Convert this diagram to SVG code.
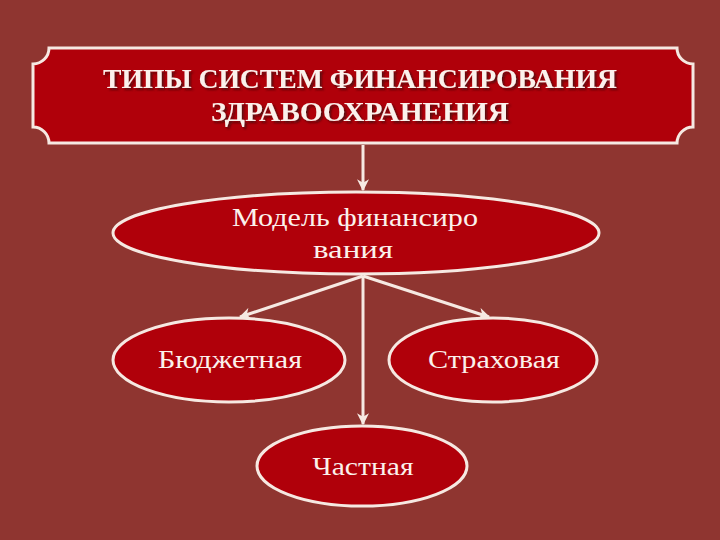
<svg xmlns="http://www.w3.org/2000/svg" width="720" height="540" viewBox="0 0 720 540">
<defs>
<style>
.node{fill:#b0000a;stroke:#f6e9e2;stroke-width:3}
.t{font-family:"Liberation Serif","Times New Roman",serif;fill:#fbf1ec;text-anchor:middle}
.title{font-weight:bold;font-size:27px;filter:url(#sh)}
.lbl{font-size:25px}
.conn{stroke:#f6e9e2;stroke-width:3;fill:none}
</style>
<filter id="sh" x="-5%" y="-30%" width="110%" height="160%">
<feDropShadow dx="2" dy="2" stdDeviation="0.8" flood-color="#3a0a08" flood-opacity="0.75"/>
</filter>
<marker id="arr" viewBox="0 0 10 10" refX="9" refY="5" markerWidth="4" markerHeight="4" orient="auto">
<path d="M0,0 L10,5 L0,10 L3,5 Z" fill="#f6e9e2"/>
</marker>
</defs>
<rect width="720" height="540" fill="#8f3530"/>
<g id="connectors">
<line class="conn" x1="363" y1="145" x2="363" y2="190" marker-end="url(#arr)"/>
<line class="conn" x1="363" y1="276" x2="240" y2="317" marker-end="url(#arr)"/>
<line class="conn" x1="363" y1="276" x2="489" y2="317" marker-end="url(#arr)"/>
<line class="conn" x1="363" y1="276" x2="363" y2="424" marker-end="url(#arr)"/>
</g>
<g id="title">
<path class="node" d="M49,48 L677,48 A16,16 0 0 0 693,64 L693,127 A16,16 0 0 0 677,143 L49,143 A16,16 0 0 0 33,127 L33,64 A16,16 0 0 0 49,48 Z"/>
<text class="t title" x="360" y="88" textLength="514" lengthAdjust="spacingAndGlyphs">ТИПЫ СИСТЕМ ФИНАНСИРОВАНИЯ</text>
<text class="t title" x="360" y="121" textLength="298" lengthAdjust="spacingAndGlyphs">ЗДРАВООХРАНЕНИЯ</text>
</g>
<g id="model">
<ellipse class="node" cx="356" cy="233" rx="243" ry="41"/>
<text class="t lbl" x="355" y="226" textLength="246" lengthAdjust="spacingAndGlyphs">Модель финансиро</text>
<text class="t lbl" x="353" y="258" textLength="80" lengthAdjust="spacingAndGlyphs">вания</text>
</g>
<g id="budget">
<ellipse class="node" cx="229" cy="360" rx="116" ry="42"/>
<text class="t lbl" x="230" y="368" textLength="144" lengthAdjust="spacingAndGlyphs">Бюджетная</text>
</g>
<g id="insurance">
<ellipse class="node" cx="493" cy="360" rx="104" ry="42"/>
<text class="t lbl" x="494" y="368" textLength="132" lengthAdjust="spacingAndGlyphs">Страховая</text>
</g>
<g id="private">
<ellipse class="node" cx="362" cy="466" rx="105" ry="40"/>
<text class="t lbl" x="363" y="475" textLength="101" lengthAdjust="spacingAndGlyphs">Частная</text>
</g>
</svg>
